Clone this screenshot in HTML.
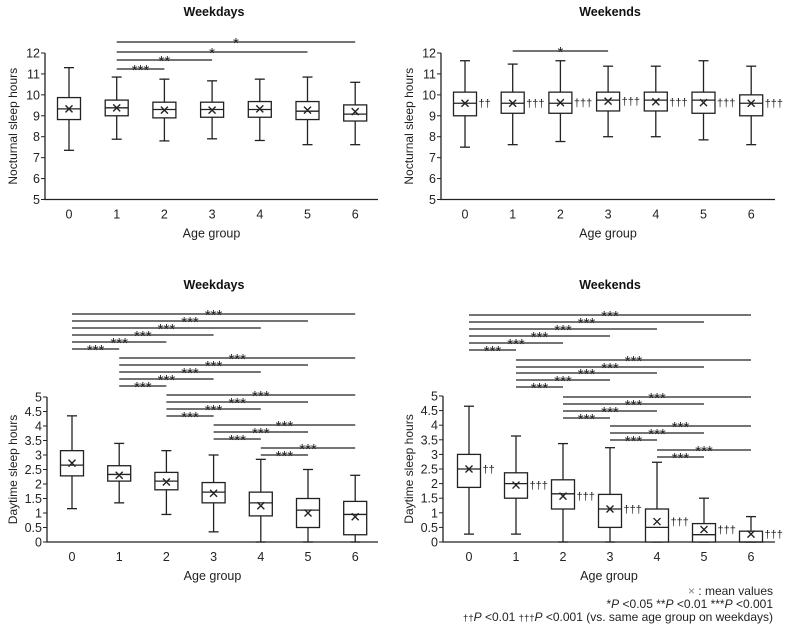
<!DOCTYPE html>
<html><head><meta charset="utf-8">
<style>
html,body{margin:0;padding:0;background:#fff;}
svg{display:block;font-family:"Liberation Sans",Arial,sans-serif;}
</style></head>
<body>
<svg id="chart" width="787" height="629" viewBox="0 0 787 629" xmlns="http://www.w3.org/2000/svg"></svg>
<script>
// ---------- data ----------
const categories = ["0","1","2","3","4","5","6"];
// nocturnal weekdays
const nwdLow  = [7.35,7.88,7.8,7.9,7.82,7.62,7.62];
const nwdQ1   = [8.82,9.0,8.9,8.93,8.93,8.82,8.75];
const nwdMed  = [9.33,9.38,9.3,9.3,9.3,9.22,9.08];
const nwdQ3   = [9.87,9.75,9.65,9.65,9.68,9.68,9.52];
const nwdHigh = [11.3,10.85,10.75,10.67,10.75,10.85,10.6];
const nwdMean = [9.33,9.38,9.27,9.27,9.33,9.27,9.2];
// nocturnal weekends
const nweLow  = [7.5,7.62,7.77,8.0,8.0,7.85,7.62];
const nweQ1   = [9.0,9.12,9.12,9.23,9.23,9.12,9.0];
const nweMed  = [9.6,9.6,9.6,9.75,9.75,9.75,9.6];
const nweQ3   = [10.13,10.13,10.13,10.13,10.13,10.13,10.0];
const nweHigh = [11.63,11.47,11.63,11.37,11.37,11.63,11.37];
const nweMean = [9.6,9.6,9.63,9.7,9.67,9.63,9.6];
const nweDag  = ["††","†††","†††","†††","†††","†††","†††"];
// daytime weekdays
const dwdLow  = [1.15,1.35,0.95,0.35,0,0,0];
const dwdQ1   = [2.28,2.1,1.8,1.35,0.9,0.5,0.25];
const dwdMed  = [2.65,2.33,2.1,1.72,1.35,1.1,0.95];
const dwdQ3   = [3.15,2.63,2.4,2.05,1.72,1.5,1.4];
const dwdHigh = [4.35,3.4,3.15,3.0,2.85,2.5,2.3];
const dwdMean = [2.72,2.3,2.07,1.68,1.25,1.0,0.87];
// daytime weekends
const dweLow  = [0.27,0.27,0,0,0,0,0];
const dweQ1   = [1.87,1.5,1.13,0.5,0,0,0];
const dweMed  = [2.5,2.0,1.65,1.13,0.5,0.25,0];
const dweQ3   = [3.0,2.37,2.13,1.63,1.13,0.63,0.37];
const dweHigh = [4.65,3.63,3.37,3.23,2.73,1.5,0.87];
const dweMean = [2.5,1.95,1.57,1.13,0.7,0.43,0.27];
const dweDag  = ["††","†††","†††","†††","†††","†††","†††"];
// significance pairs [from,to,label]
const nwdSig = [[1,2,"***"],[1,3,"**"],[1,5,"*"],[1,6,"*"]];
const nweSig = [[1,3,"*"]];
const daySig = [[0,1,"***"],[0,2,"***"],[0,3,"***"],[0,4,"***"],[0,5,"***"],[0,6,"***"],
                [1,2,"***"],[1,3,"***"],[1,4,"***"],[1,5,"***"],[1,6,"***"],
                [2,3,"***"],[2,4,"***"],[2,5,"***"],[2,6,"***"],
                [3,4,"***"],[3,5,"***"],[3,6,"***"],
                [4,5,"***"],[4,6,"***"]];
const nightTicks = [5,6,7,8,9,10,11,12];
const dayTicks = [0,0.5,1,1.5,2,2.5,3,3.5,4,4.5,5];

const svg = document.getElementById('chart');
const NS = "http://www.w3.org/2000/svg";
function mk(tag, attrs, parent, text){
  const e = document.createElementNS(NS, tag);
  for (const k in attrs) e.setAttribute(k, attrs[k]);
  if (text !== undefined) e.textContent = text;
  (parent || svg).appendChild(e);
  return e;
}

function panel(cfg){
  const g = mk('g', {});
  
  
  const y = v => cfg.y0 + (v - cfg.vmin) / (cfg.vmax - cfg.vmin) * (cfg.y1 - cfg.y0);
  const x = i => cfg.x0 + i * cfg.step;
  const t = mk('text', {x: cfg.titleX, y: cfg.titleY, 'text-anchor':'middle', 'font-size':12.5, 'font-weight':'bold', fill:'#111'}, g, cfg.title);
  
  
  const ax = mk('path', {d:`M${cfg.ax} ${y(cfg.vmax)}V${y(cfg.vmin)}H${cfg.axEnd}`, stroke:'#222', 'stroke-width':1.3, fill:'none'}, g);
  
  
  cfg.ticks.forEach(v => {
    mk('line', {x1:cfg.ax-4, x2:cfg.ax, y1:y(v), y2:y(v), stroke:'#222', 'stroke-width':1}, g);
    const tl = mk('text', {x:cfg.ax-5, y:y(v)+4.5, 'text-anchor':'end', 'font-size':12.5, fill:'#222'}, g, String(v));
    
    
  });
  const yl = mk('text', {transform:`translate(${cfg.ylabX},${(y(cfg.vmax)+y(cfg.vmin))/2}) rotate(-90)`, 'text-anchor':'middle', 'font-size':12, fill:'#222'}, g, cfg.ylabel);
  
  
  categories.forEach((c,i) => {
    const xl = mk('text', {x:x(i), y:y(cfg.vmin)+19, 'text-anchor':'middle', 'font-size':12.5, fill:'#222'}, g, c);
    
    
  });
  const xt = mk('text', {x:(cfg.ax+cfg.axEnd)/2, y:y(cfg.vmin)+38, 'text-anchor':'middle', 'font-size':12.5, fill:'#222'}, g, 'Age group');
  
  
  const hw = 11.5;
  categories.forEach((c,i) => {
    const b = mk('g', {stroke:'#222', 'stroke-width':1.3, fill:'#fff'}, g);
    
    
    const cx = x(i);
    mk('line', {x1:cx, x2:cx, y1:y(cfg.low[i]), y2:y(cfg.high[i])}, b);
    mk('line', {x1:cx-5, x2:cx+5, y1:y(cfg.low[i]), y2:y(cfg.low[i])}, b);
    mk('line', {x1:cx-5, x2:cx+5, y1:y(cfg.high[i]), y2:y(cfg.high[i])}, b);
    mk('rect', {x:cx-hw, y:y(cfg.q3[i]), width:2*hw, height:y(cfg.q1[i])-y(cfg.q3[i])}, b);
    mk('line', {x1:cx-hw, x2:cx+hw, y1:y(cfg.med[i]), y2:y(cfg.med[i])}, b);
    const my = y(cfg.mean[i]);
    mk('path', {d:`M${cx-3.5} ${my-3.5}L${cx+3.5} ${my+3.5}M${cx-3.5} ${my+3.5}L${cx+3.5} ${my-3.5}`, 'stroke-width':1.4}, b);
    if (cfg.dag){
      const dt = mk('text', {x:cx+hw+2, y:my+4, 'font-size':11, fill:'#222', stroke:'none'}, g, cfg.dag[i]);
      
      
    }
  });
  cfg.sig.forEach((s,k) => {
    const ly = cfg.sigY[k];
    const x1 = x(s[0]), x2 = x(s[1]);
    const ln = mk('line', {x1:x1, x2:x2, y1:ly, y2:ly, stroke:'#222', 'stroke-width':1.3}, g);
    
    
    const st = mk('text', {x:(x1+x2)/2, y:ly+6, 'text-anchor':'middle', 'font-size':15, fill:'#222'}, g, s[2]);
    
    
  });
}

panel({name:'panel-nocturnal-weekdays', title:'Weekdays', titleX:214, titleY:16,
  vmin:5, vmax:12, y0:199.5, y1:53, x0:69, step:47.7, ax:45, axEnd:378, ylabX:17, ylabel:'Nocturnal sleep hours',
  ticks:nightTicks, low:nwdLow, q1:nwdQ1, med:nwdMed, q3:nwdQ3, high:nwdHigh, mean:nwdMean,
  sig:nwdSig, sigY:[69,60,52,42]});
panel({name:'panel-nocturnal-weekends', title:'Weekends', titleX:610, titleY:16,
  vmin:5, vmax:12, y0:199.5, y1:53, x0:465, step:47.7, ax:441, axEnd:775, ylabX:413, ylabel:'Nocturnal sleep hours',
  ticks:nightTicks, low:nweLow, q1:nweQ1, med:nweMed, q3:nweQ3, high:nweHigh, mean:nweMean, dag:nweDag,
  sig:nweSig, sigY:[51]});
panel({name:'panel-daytime-weekdays', title:'Weekdays', titleX:214, titleY:289,
  vmin:0, vmax:5, y0:542, y1:397, x0:72, step:47.2, ax:47, axEnd:378, ylabX:17, ylabel:'Daytime sleep hours',
  ticks:dayTicks, low:dwdLow, q1:dwdQ1, med:dwdMed, q3:dwdQ3, high:dwdHigh, mean:dwdMean,
  sig:daySig, sigY:[349,342,335,328,321,314, 386,379,372,365,358, 416,409,402,395, 439,432,425, 455,448]});
panel({name:'panel-daytime-weekends', title:'Weekends', titleX:610, titleY:289,
  vmin:0, vmax:5, y0:542, y1:396, x0:469, step:47, ax:443, axEnd:775, ylabX:413, ylabel:'Daytime sleep hours',
  ticks:dayTicks, low:dweLow, q1:dweQ1, med:dweMed, q3:dweQ3, high:dweHigh, mean:dweMean, dag:dweDag,
  sig:daySig, sigY:[350,343,336,329,322,315, 387,380,373,367,360, 418,411,404,397, 440,433,426, 457,450]});

const lg = mk('g', {'font-size':12, fill:'#222', 'text-anchor':'end'});


const l1 = mk('text', {x:773, y:595}, lg);
l1.innerHTML = '<tspan fill="#888">×</tspan> : mean values';
const l2 = mk('text', {x:773, y:608}, lg);
l2.innerHTML = '*<tspan font-style="italic">P</tspan> &lt;0.05 **<tspan font-style="italic">P</tspan> &lt;0.01 ***<tspan font-style="italic">P</tspan> &lt;0.001';
const l3 = mk('text', {x:773, y:621}, lg);
l3.innerHTML = '<tspan font-size="9.5">††</tspan><tspan font-style="italic">P</tspan> &lt;0.01 <tspan font-size="9.5">†††</tspan><tspan font-style="italic">P</tspan> &lt;0.001  (vs. same age group on weekdays)';
</script>
</body></html>
